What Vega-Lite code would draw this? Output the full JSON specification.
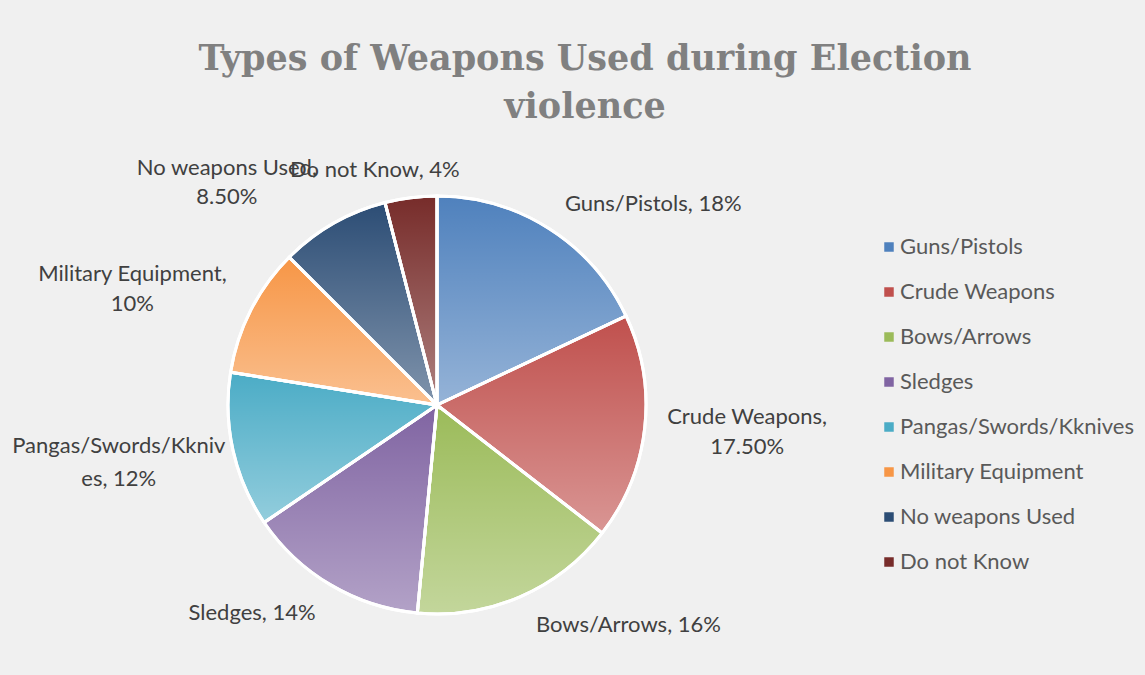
{
  "$schema": "https://vega.github.io/schema/vega-lite/v6.json",
  "width": 860,
  "height": 540,
  "autosize": {"type": "none"},
  "padding": {"left": 7, "top": 135, "right": 278, "bottom": 0},
  "background": "#f0f0f0",
  "config": {"view": {"stroke": null}, "font": "Lato"},
  "title": {
    "text": ["Types of Weapons Used during Election", "violence"],
    "font": "DejaVu Serif",
    "fontSize": 35,
    "fontWeight": "bold",
    "color": "#808080",
    "anchor": "middle",
    "frame": "group",
    "dx": 148,
    "offset": -80,
    "lineHeight": 48
  },
  "data": {
    "values": [
      {"i": 1, "category": "Guns/Pistols", "value": 18, "label": "Guns/Pistols, 18%"},
      {"i": 2, "category": "Crude Weapons", "value": 17.5, "label": "Crude Weapons,\n17.50%"},
      {"i": 3, "category": "Bows/Arrows", "value": 16, "label": "Bows/Arrows, 16%"},
      {"i": 4, "category": "Sledges", "value": 14, "label": "Sledges, 14%"},
      {"i": 5, "category": "Pangas/Swords/Kknives", "value": 12, "label": "Pangas/Swords/Kkniv\nes, 12%"},
      {"i": 6, "category": "Military Equipment", "value": 10, "label": "Military Equipment,\n10%"},
      {"i": 7, "category": "No weapons Used", "value": 8.5, "label": "No weapons Used,\n8.50%"},
      {"i": 8, "category": "Do not Know", "value": 4, "label": "Do not Know, 4%"}
    ]
  },
  "encoding": {
    "theta": {"field": "value", "type": "quantitative", "stack": true},
    "order": {"field": "i", "type": "quantitative"}
  },
  "layer": [
    {
      "mark": {"type": "arc", "outerRadius": 209, "stroke": "white", "strokeWidth": 3},
      "encoding": {
        "color": {
          "field": "category",
          "type": "nominal",
          "scale": {
            "domain": ["Guns/Pistols", "Crude Weapons", "Bows/Arrows", "Sledges", "Pangas/Swords/Kknives", "Military Equipment", "No weapons Used", "Do not Know"],
            "range": ["#4F81BD", "#C0504D", "#9BBB59", "#8064A2", "#4BACC6", "#F79646", "#2C4D75", "#772C2A"]
          },
          "legend": {
            "orient": "none",
            "legendX": 871,
            "legendY": 101,
            "title": null,
            "symbolType": "square",
            "symbolSize": 90,
            "symbolStrokeWidth": 0,
            "symbolOpacity": 1,
            "labelFontSize": 22,
            "labelFont": "Lato",
            "labelColor": "#595959",
            "labelOffset": 0,
            "labelLimit": 400,
            "rowPadding": 23,
            "padding": 0
          }
        }
      }
    },
    {
      "mark": {
        "type": "arc",
        "outerRadius": 209,
        "stroke": "white",
        "strokeWidth": 3,
        "fill": {
          "gradient": "linear",
          "x1": 0, "y1": 0, "x2": 0, "y2": 1,
          "stops": [
            {"offset": 0, "color": "rgba(255,255,255,0)"},
            {"offset": 1, "color": "rgba(255,255,255,0.4)"}
          ]
        }
      }
    },
    {
      "mark": {"type": "text", "radius": 286, "dx": 63, "dy": 40, "fontSize": 22, "color": "#404040", "lineBreak": "\n", "align": "center", "baseline": "middle"},
      "encoding": {"text": {"condition": {"test": "datum.category === 'Guns/Pistols'", "field": "label", "type": "nominal"}, "value": ""}}
    },
    {
      "mark": {"type": "text", "radius": 312, "dx": 0, "dy": -22, "fontSize": 22, "color": "#404040", "lineBreak": "\n", "align": "center", "baseline": "middle", "lineHeight": 30},
      "encoding": {"text": {"condition": {"test": "datum.category === 'Crude Weapons'", "field": "label", "type": "nominal"}, "value": ""}}
    },
    {
      "mark": {"type": "text", "radius": 278, "dx": 81, "dy": -35, "fontSize": 22, "color": "#404040", "lineBreak": "\n", "align": "center", "baseline": "middle"},
      "encoding": {"text": {"condition": {"test": "datum.category === 'Bows/Arrows'", "field": "label", "type": "nominal"}, "value": ""}}
    },
    {
      "mark": {"type": "text", "radius": 273, "dx": -46, "dy": -27, "fontSize": 22, "color": "#404040", "lineBreak": "\n", "align": "center", "baseline": "middle"},
      "encoding": {"text": {"condition": {"test": "datum.category === 'Sledges'", "field": "label", "type": "nominal"}, "value": ""}}
    },
    {
      "mark": {"type": "text", "radius": 323, "dx": -3, "dy": -29, "fontSize": 22, "color": "#404040", "lineBreak": "\n", "align": "center", "baseline": "middle", "lineHeight": 33},
      "encoding": {"text": {"condition": {"test": "datum.category === 'Pangas/Swords/Kknives'", "field": "label", "type": "nominal"}, "value": ""}}
    },
    {
      "mark": {"type": "text", "radius": 325, "dx": -15, "dy": 17, "fontSize": 22, "color": "#404040", "lineBreak": "\n", "align": "center", "baseline": "middle", "lineHeight": 30},
      "encoding": {"text": {"condition": {"test": "datum.category === 'Military Equipment'", "field": "label", "type": "nominal"}, "value": ""}}
    },
    {
      "mark": {"type": "text", "radius": 297, "dx": -63, "dy": 21, "fontSize": 22, "color": "#404040", "lineBreak": "\n", "align": "center", "baseline": "middle", "lineHeight": 29},
      "encoding": {"text": {"condition": {"test": "datum.category === 'No weapons Used'", "field": "label", "type": "nominal"}, "value": ""}}
    },
    {
      "mark": {"type": "text", "radius": 241, "dx": -32, "dy": 4, "fontSize": 22, "color": "#404040", "lineBreak": "\n", "align": "center", "baseline": "middle"},
      "encoding": {"text": {"condition": {"test": "datum.category === 'Do not Know'", "field": "label", "type": "nominal"}, "value": ""}}
    }
  ]
}
